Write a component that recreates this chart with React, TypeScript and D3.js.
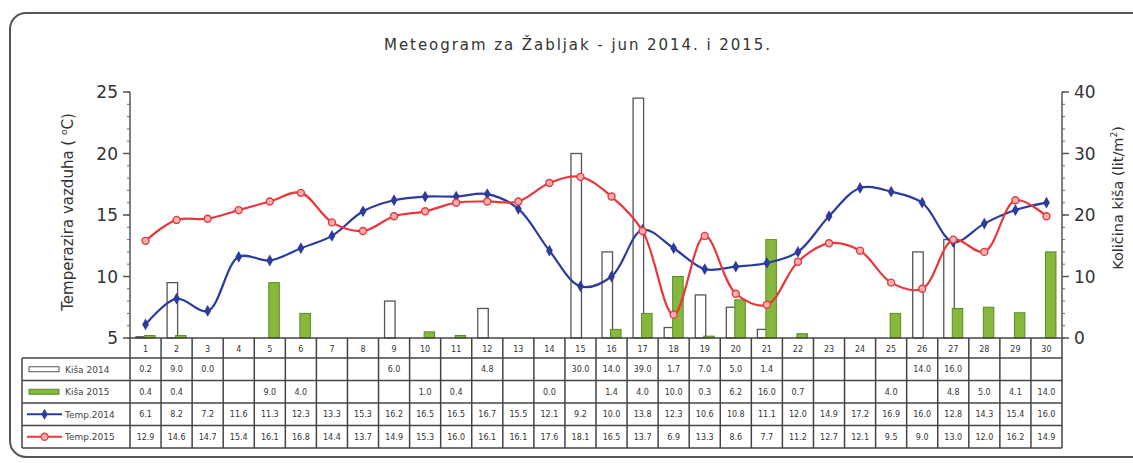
import React from "react";
import * as d3 from "d3";

const days = d3.range(1, 31).map(String);
const rain2014: (number | null)[] = [0.2, 9.0, 0.0, null, null, null, null, null, 6.0, null, null, 4.8, null, null, 30.0, 14.0, 39.0, 1.7, 7.0, 5.0, 1.4, null, null, null, null, 14.0, 16.0, null, null, null];
const rain2015: (number | null)[] = [0.4, 0.4, null, null, 9.0, 4.0, null, null, null, 1.0, 0.4, null, null, 0.0, null, 1.4, 4.0, 10.0, 0.3, 6.2, 16.0, 0.7, null, null, 4.0, null, 4.8, 5.0, 4.1, 14.0];
const temp2014 = [6.1, 8.2, 7.2, 11.6, 11.3, 12.3, 13.3, 15.3, 16.2, 16.5, 16.5, 16.7, 15.5, 12.1, 9.2, 10.0, 13.8, 12.3, 10.6, 10.8, 11.1, 12.0, 14.9, 17.2, 16.9, 16.0, 12.8, 14.3, 15.4, 16.0];
const temp2015 = [12.9, 14.6, 14.7, 15.4, 16.1, 16.8, 14.4, 13.7, 14.9, 15.3, 16.0, 16.1, 16.1, 17.6, 18.1, 16.5, 13.7, 6.9, 13.3, 8.6, 7.7, 11.2, 12.7, 12.1, 9.5, 9.0, 13.0, 12.0, 16.2, 14.9];
const tempTicks = [5, 10, 15, 20, 25];
const rainTicks = [0, 10, 20, 30, 40];
const seriesNames = ["Kiša 2014", "Kiša 2015", "Temp.2014", "Temp.2015"];

const BLUE = "#2c3c9e";
const RED = "#e8383c";
const GREEN = "#86b83e";
const GREEN_D = "#5a8a22";
const GRID = "#444";

export default function App() {
  const W = 1133, H = 463;
  const left = 130, right = 1062, top = 92, bottom = 338;
  const x = d3.scaleBand<string>().domain(days).range([left, right]).padding(0);
  const bw = x.bandwidth();
  const yT = d3.scaleLinear().domain([5, 25]).range([bottom, top]);
  const yR = d3.scaleLinear().domain([0, 40]).range([bottom, top]);
  const cx = (i: number) => (x(days[i]) as number) + bw / 2;

  const line = d3
    .line<number>()
    .x((_, i) => cx(i))
    .y((d) => yT(d))
    .curve(d3.curveCatmullRom.alpha(0.5));

  const barW = 10.5;
  const tableTop = bottom;
  const headerH = 20;
  const rowH = 22.5;
  const legendLeft = 22;
  const rows = [rain2014, rain2015, temp2014, temp2015];
  const tableBottom = tableTop + headerH + rowH * 4;

  const minorT = d3.range(5, 25.01, 1);
  const minorR = d3.range(0, 40.01, 2);

  const font = "DejaVu Sans, Verdana, sans-serif";

  return (
    <svg width={W} height={H} style={{ position: "absolute", left: 0, top: 0, background: "#fff" }} fontFamily={font}>
      <rect x={10} y={13} width={1140} height={444} rx={16} fill="#fff" stroke="#555" strokeWidth={2} />
      <text x={577} y={50} textAnchor="middle" fontSize={15} fill="#333" textLength={386} lengthAdjust="spacing">
        Meteogram za Žabljak - jun 2014. i 2015.
      </text>

      {/* left axis */}
      <line x1={left} x2={left} y1={top} y2={bottom} stroke="#555" strokeWidth={1.5} />
      {minorT.map((t) => (
        <line key={"mt" + t} x1={left - 3} x2={left} y1={yT(t)} y2={yT(t)} stroke="#666" strokeWidth={1} />
      ))}
      {tempTicks.map((t) => (
        <g key={"t" + t}>
          <line x1={left - 7} x2={left} y1={yT(t)} y2={yT(t)} stroke="#555" strokeWidth={1.5} />
          <text x={left - 12} y={yT(t) + 6} textAnchor="end" fontSize={17} fill="#333">
            {t}
          </text>
        </g>
      ))}
      <text transform={`translate(73,${212}) rotate(-90)`} textAnchor="middle" fontSize={15} fill="#333">
        Temperazira vazduha ( <tspan dy={-6} fontSize={9}>o</tspan>
        <tspan dy={6}>C)</tspan>
      </text>

      {/* right axis */}
      <line x1={right} x2={right} y1={top} y2={bottom} stroke="#555" strokeWidth={1.5} />
      {minorR.map((t) => (
        <line key={"mr" + t} x1={right} x2={right + 3} y1={yR(t)} y2={yR(t)} stroke="#666" strokeWidth={1} />
      ))}
      {rainTicks.map((t) => (
        <g key={"r" + t}>
          <line x1={right} x2={right + 7} y1={yR(t)} y2={yR(t)} stroke="#555" strokeWidth={1.5} />
          <text x={right + 12} y={yR(t) + 6} textAnchor="start" fontSize={17} fill="#333">
            {t}
          </text>
        </g>
      ))}
      <text transform={`translate(1123,${198}) rotate(-90)`} textAnchor="middle" fontSize={14.5} fill="#333">
        Količina kiša (lit/m<tspan dy={-6} fontSize={9}>2</tspan>
        <tspan dy={6}>)</tspan>
      </text>

      {/* bars */}
      {rain2014.map((v, i) =>
        v === null || v === 0 ? null : (
          <rect key={"b14" + i} x={cx(i) - 9.5} y={yR(v)} width={barW} height={bottom - yR(v)} fill="#fff" stroke="#555" strokeWidth={1.3} />
        )
      )}
      {rain2015.map((v, i) =>
        v === null || v === 0 ? null : (
          <rect key={"b15" + i} x={cx(i) - 1} y={yR(v)} width={barW} height={bottom - yR(v)} fill={GREEN} stroke={GREEN_D} strokeWidth={1} />
        )
      )}

      {/* lines */}
      <path d={line(temp2014) || ""} fill="none" stroke={BLUE} strokeWidth={2.2} />
      {temp2014.map((v, i) => (
        <path key={"m14" + i} d={d3.symbol(d3.symbolDiamond, 40)() || ""} transform={`translate(${cx(i)},${yT(v)})`} fill={BLUE} />
      ))}
      <path d={line(temp2015) || ""} fill="none" stroke={RED} strokeWidth={2.2} />
      {temp2015.map((v, i) => (
        <circle key={"m15" + i} cx={cx(i)} cy={yT(v)} r={3.5} fill="#f6b0b0" stroke={RED} strokeWidth={1.4} />
      ))}

      {/* table header */}
      <line x1={left} x2={right} y1={bottom} y2={bottom} stroke={GRID} strokeWidth={1.5} />
      {days.map((d, i) => (
        <text key={"d" + d} x={cx(i)} y={tableTop + 14} textAnchor="middle" fontSize={8} fill="#333">
          {d}
        </text>
      ))}
      {/* table rows */}
      {[0, 1, 2, 3, 4].map((r) => (
        <line key={"h" + r} x1={legendLeft} x2={right} y1={tableTop + headerH + r * rowH} y2={tableTop + headerH + r * rowH} stroke={GRID} strokeWidth={1.5} />
      ))}
      <line x1={legendLeft} x2={legendLeft} y1={tableTop + headerH} y2={tableBottom} stroke={GRID} strokeWidth={1.5} />
      {d3.range(0, 31).map((i) => {
        const xx = left + i * bw;
        return <line key={"v" + i} x1={xx} x2={xx} y1={tableTop} y2={tableBottom} stroke={GRID} strokeWidth={1.5} />;
      })}
      {rows.map((row, r) => {
        const yc = tableTop + headerH + r * rowH + rowH / 2;
        return (
          <g key={"row" + r}>
            {r === 0 && <rect x={29} y={yc - 2.5} width={30} height={5} fill="#fff" stroke="#555" strokeWidth={1} />}
            {r === 1 && <rect x={29} y={yc - 2.5} width={30} height={5} fill={GREEN} stroke={GREEN_D} strokeWidth={1} />}
            {r === 2 && (
              <g>
                <line x1={27} x2={62} y1={yc} y2={yc} stroke={BLUE} strokeWidth={2} />
                <path d={d3.symbol(d3.symbolDiamond, 35)() || ""} transform={`translate(44.5,${yc})`} fill={BLUE} />
              </g>
            )}
            {r === 3 && (
              <g>
                <line x1={27} x2={62} y1={yc} y2={yc} stroke={RED} strokeWidth={2} />
                <circle cx={44.5} cy={yc} r={3.5} fill="#f6b0b0" stroke={RED} strokeWidth={1.3} />
              </g>
            )}
            <text x={65} y={yc + 3.5} fontSize={9} fill="#444">
              {seriesNames[r]}
            </text>
            {row.map((v, i) =>
              v === null ? null : (
                <text key={"c" + i} x={cx(i)} y={yc + 3} textAnchor="middle" fontSize={8} fill="#333">
                  {v.toFixed(1)}
                </text>
              )
            )}
          </g>
        );
      })}
    </svg>
  );
}
